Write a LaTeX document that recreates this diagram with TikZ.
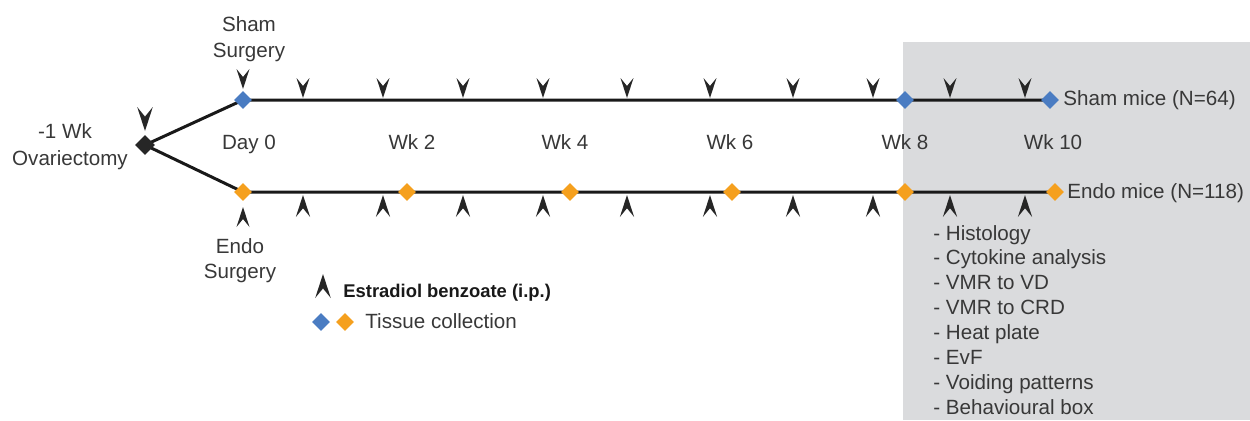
\documentclass[tikz,border=0pt]{standalone}
\usepackage{fontspec}
\setmainfont{Liberation Sans}
\usetikzlibrary{shapes.geometric}
\definecolor{ink}{HTML}{383838}
\definecolor{shamblue}{HTML}{4A7CC2}
\definecolor{endoorange}{HTML}{F5A01E}
\definecolor{panelgrey}{HTML}{DADBDD}
\pgfdeclarelayer{back}
\pgfsetlayers{back,main}
\tikzset{
  lbl/.style={inner sep=0, text=ink, font=\fontsize{10.3pt}{12pt}\selectfont},
  gem/.style={diamond, inner sep=0, minimum width=9pt, minimum height=9pt},
  timeline/.style={line width=1.5pt, black!90},
  pics/ebdose/.style={code={\fill[black!85] (0,0) -- (-6.5,-20) -- (0,-12) -- (6.5,-20) -- cycle;}},
}
\begin{document}
\begin{tikzpicture}[x=0.5pt, y=-0.5pt]
\useasboundingbox (0,0) rectangle (1250,420);

% shaded panel for the end-point measurements
\begin{pgfonlayer}{back}
  \fill[panelgrey] (903,42) rectangle (1250,420);
\end{pgfonlayer}

% tissue-collection points
\node[gem, fill=black!85, minimum width=10pt, minimum height=10pt] (ovx) at (145,145) {};
\node[gem, fill=shamblue] (s0) at (243,100) {};
\node[gem, fill=shamblue] (s8) at (905,100) {};
\node[gem, fill=shamblue] (s10) at (1050,100) {};
\node[gem, fill=endoorange] (e0) at (243,192) {};
\node[gem, fill=endoorange] (e2) at (407,192) {};
\node[gem, fill=endoorange] (e4) at (570,192) {};
\node[gem, fill=endoorange] (e6) at (732,192) {};
\node[gem, fill=endoorange] (e8) at (905,192) {};
\node[gem, fill=endoorange] (e10) at (1055,192) {};

% timelines
\begin{pgfonlayer}{back}
  \draw[timeline] (ovx.center) -- (s0.center) -- (s10.center);
  \draw[timeline] (ovx.center) -- (e0.center) -- (e10.center);
\end{pgfonlayer}

% estradiol benzoate injections
\foreach \x in {303,383,463,543,627,710,793,873,950,1025} {
  \pic at (\x,98) {ebdose};
  \pic[rotate=180, scale=1.1] at (\x,195) {ebdose};
}
\pic at (243,89) {ebdose};
\pic[rotate=180] at (243,207) {ebdose};
\pic[scale=1.2] at (145,131) {ebdose};

% labels
\node[lbl, anchor=base] (shamA) at (249,31) {Sham};
\node[lbl, anchor=base] (shamB) at (249,57) {Surgery};
\node[lbl, anchor=base] (ovxA) at (65,138) {-1 Wk};
\node[lbl, anchor=base] (ovxB) at (70,165) {Ovariectomy};
\node[lbl, anchor=base] (endoA) at (240,253) {Endo};
\node[lbl, anchor=base] (endoB) at (240,278) {Surgery};

\node[lbl, anchor=base] (d0) at (249,149) {Day 0};
\node[lbl, anchor=base] (w2) at (412,149) {Wk 2};
\node[lbl, anchor=base] (w4) at (565,149) {Wk 4};
\node[lbl, anchor=base] (w6) at (730,149) {Wk 6};
\node[lbl, anchor=base] (w8) at (905,149) {Wk 8};
\node[lbl, anchor=base] (w10) at (1053,149) {Wk 10};

\node[lbl, anchor=base west] (shammice) at (1063,105) {Sham mice (N=64)};
\node[lbl, anchor=base west] (endomice) at (1067,198) {Endo mice (N=118)};

% legend
\pic[rotate=180, scale=1.2] at (323,274) {ebdose};
\node[lbl, anchor=base west, text=black!90, font=\fontsize{9.2pt}{11pt}\selectfont\bfseries] (legEB) at (343,297) {Estradiol benzoate (i.p.)};
\node[gem, fill=shamblue] (legS) at (321,322) {};
\node[gem, fill=endoorange] (legE) at (345,322) {};
\node[lbl, anchor=base west] (legT) at (365,328) {Tissue collection};

% end-point measurements
\foreach \t [count=\i from 0] in {Histology, Cytokine analysis, VMR to VD, VMR to CRD, Heat plate, EvF, Voiding patterns, Behavioural box} {
  \node[lbl, anchor=base west] (item\i) at (933,240+24.9*\i) {- \t};
}
\end{tikzpicture}
\end{document}
